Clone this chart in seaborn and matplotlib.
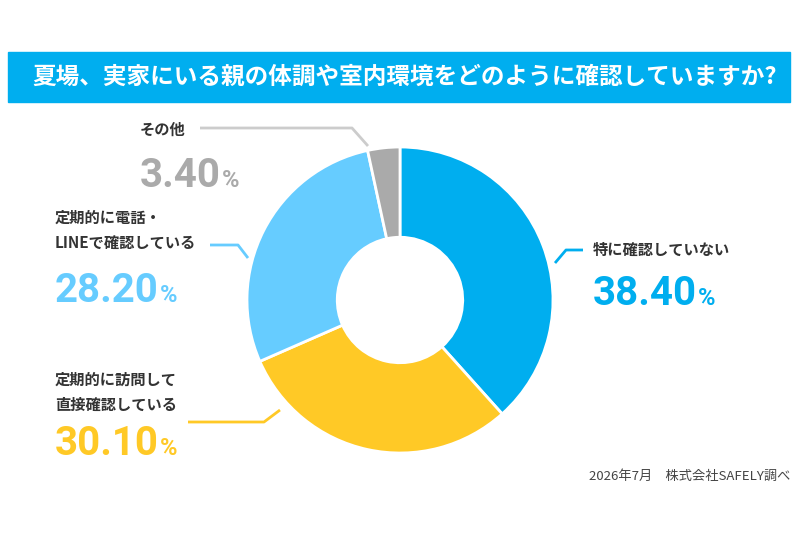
import matplotlib
matplotlib.use("Agg")
import matplotlib.pyplot as plt
import seaborn as sns
from matplotlib.patches import Rectangle

# data
categories = ["特に確認していない", "定期的に訪問して\n直接確認している",
              "定期的に電話・\nLINEで確認している", "その他"]
values = [38.4, 30.1, 28.2, 3.4]
value_labels = ["38.40", "30.10", "28.20", "3.40"]
title = "夏場、実家にいる親の体調や室内環境をどのように確認していますか?"
footer = "2026年7月　株式会社SAFELY調べ"

colors = ["#00AEEF", "#FFC926", "#66CCFF", "#AAAAAA"]

sns.set_theme(style="white")
plt.rcParams['font.family'] = ['Noto Sans CJK JP', 'DejaVu Sans']

W, H = 800, 533
fig = plt.figure(figsize=(8, 5.33), dpi=100)
ax = fig.add_axes([0, 0, 1, 1])


def Y(y):
    return H - y


# title bar
ax.add_patch(Rectangle((8, Y(102)), 782, 50, color="#00AEEF", zorder=1))
ax.text(32, Y(77), title, color="white", fontsize=17, fontweight="bold",
        va="center", ha="left", zorder=2)

# donut
wedges, _ = ax.pie(values, colors=colors, startangle=90, counterclock=False,
                   center=(400, Y(300)), radius=153,
                   wedgeprops=dict(width=153 * 0.59, edgecolor="white", linewidth=2))
ax.set_xlim(0, W)
ax.set_ylim(0, H)
ax.set_aspect("equal")
ax.axis("off")

# label layout: (text x, line ys, value y, leader points, leader colour)
layout = [
    (593, [250], 290, [(555, 263), (566, 250), (583, 250)], colors[0]),
    (55, [380, 405], 440, [(188, 422), (264, 422), (280, 410)], colors[1]),
    (55, [218, 244], 287, [(210, 245), (238, 245), (248, 258)], colors[2]),
    (140, [130], 172, [(200, 128), (352, 128), (368, 146)], "#CCCCCC"),
]

fig.canvas.draw()
renderer = fig.canvas.get_renderer()

for cat, val, vcol, (tx, ly, vy, pts, lcol) in zip(categories, value_labels,
                                                   colors, layout):
    for line, yy in zip(cat.split("\n"), ly):
        ax.text(tx, Y(yy), line, fontsize=11, fontweight="bold", color="#333333",
                va="center", ha="left")
    t = ax.text(tx, Y(vy) - 15, val, fontsize=29, fontweight="bold", color=vcol,
                family=["Roboto", "DejaVu Sans"], va="baseline", ha="left")
    bb = t.get_window_extent(renderer=renderer)
    x1 = ax.transData.inverted().transform((bb.x1, bb.y0))[0]
    ax.text(x1 + 1, Y(vy) - 15, "%", fontsize=17, fontweight="bold", color=vcol,
            family=["Roboto", "DejaVu Sans"], va="baseline", ha="left")
    ax.plot([p[0] for p in pts], [Y(p[1]) for p in pts], color=lcol, lw=2,
            solid_capstyle="butt")

ax.text(790, Y(476), footer, fontsize=9.5, color="#444444", ha="right", va="center")

fig.savefig("out.png", dpi=100, facecolor="white")
